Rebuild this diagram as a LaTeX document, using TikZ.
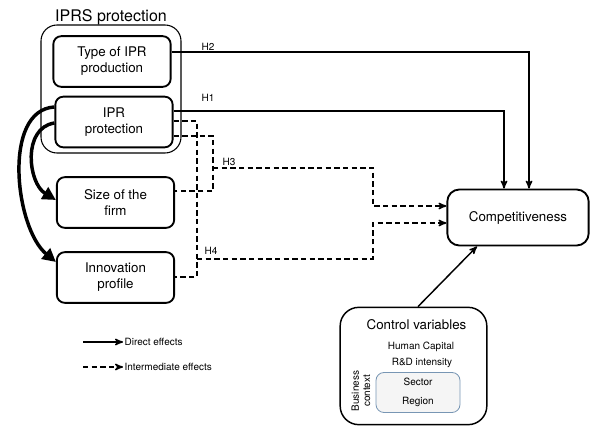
\documentclass[tikz,border=0pt]{standalone}
\usepackage{fontspec}
\setmainfont{TeX Gyre Heros}
\usepackage{xcolor}
\usetikzlibrary{positioning}
\usetikzlibrary{arrows}
\usetikzlibrary{arrows.meta}
\usetikzlibrary{calc}

\definecolor{ctxline}{RGB}{120,150,180}

\begin{document}
\begin{tikzpicture}[x=0.75pt,y=-0.75pt,>=stealth',
    main node/.style={draw,rounded corners=6pt,line width=1.4pt,minimum width=88pt,
                      minimum height=38pt,align=center,font=\fontsize{10}{12}\selectfont},
    small text/.style={font=\fontsize{7.5}{9}\selectfont,inner sep=1pt},
    direct/.style={->,line width=1.1pt},
    link/.style={line width=1.1pt,dash pattern=on 4pt off 2.5pt},
    indirect/.style={link,->},
    bend arrow/.style={-{Triangle[length=10pt,width=10pt]},line width=2.6pt}]
  \useasboundingbox (0,0) rectangle (590,427);

  % group of IPRS boxes
  \node[draw,rounded corners=12pt,line width=0.8pt,minimum width=105pt,minimum height=96pt] (0) at (111,89) {};
  \node[font=\fontsize{12}{14}\selectfont] (t) at (111,17) {IPRS protection};

  \node[main node] (1) at (112,61.5) {Type of IPR\\production};
  \node[main node] (2) at (114,122) {IPR\\protection};
  \node[main node] (3) at (115.5,202.5) {Size of the\\firm};
  \node[main node] (4) at (115.5,277.5) {Innovation\\profile};
  \node[main node,rounded corners=9pt,minimum width=106pt,minimum height=42pt] (5) at (518,217.5) {Competitiveness};

  % control variables
  \node[draw,rounded corners=14pt,line width=1.1pt,minimum width=110pt,minimum height=88pt] (6) at (413.5,366) {};
  \node[font=\fontsize{10}{12}\selectfont] (7) at (416.5,325) {Control variables};
  \node[small text] (8) at (421,347) {Human Capital};
  \node[small text] (9) at (422,363) {R\&D intensity};
  \node[draw=ctxline,fill=gray!8,rounded corners=6pt,line width=0.6pt,minimum width=63pt,minimum height=30pt,
        align=center,font=\fontsize{7.5}{14}\selectfont] (10) at (418,392.5) {Sector\\Region};
  \node[small text,rotate=90,align=center,font=\fontsize{7.5}{8.5}\selectfont] (11) at (361,391) {Business\\context};

  % hypothesis labels
  \node[small text] (h2) at (208,47) {H2};
  \node[small text] (h1) at (208,98) {H1};
  \node[small text] (h3) at (229,162) {H3};
  \node[small text] (h4) at (211,251) {H4};

  % direct effects
  \draw[direct] (1.east |- 0,52) -| (529,0 |- 5.north);
  \draw[direct] (2.east |- 0,111) -| (504,0 |- 5.north);
  \draw[direct] (6.north -| 418,0) -- (477,0 |- 5.south);

  % intermediate effects
  \coordinate (j3) at (213,168);
  \coordinate (j4) at (197,259);
  \draw[link] (2.east |- 0,136) -| (213,191) -- (3.east |- 0,191);
  \draw[link] (2.east |- 0,121) -| (197,277) -- (4.east |- 0,277);
  \draw[indirect] (j3) -| (373,206) -- (5.west |- 0,206);
  \draw[indirect] (j4) -| (373,223) -- (5.west |- 0,223);

  % bent arrows from IPR protection
  \draw[bend arrow] (2.west |- 0,107) .. controls (2,110) and (15,228) .. (4.west |- 0,262);
  \draw[bend arrow] (2.west |- 0,123) .. controls (22,128) and (28,183) .. (3.west |- 0,200);

  % legend
  \coordinate (l1) at (83,342);
  \coordinate (l2) at (83,367);
  \node[small text,anchor=west] (12) at (123,342) {Direct effects};
  \node[small text,anchor=west] (13) at (123,367) {Intermediate effects};
  \draw[direct] (l1) -- (12.west);
  \draw[indirect] (l2) -- (13.west);
\end{tikzpicture}
\end{document}
